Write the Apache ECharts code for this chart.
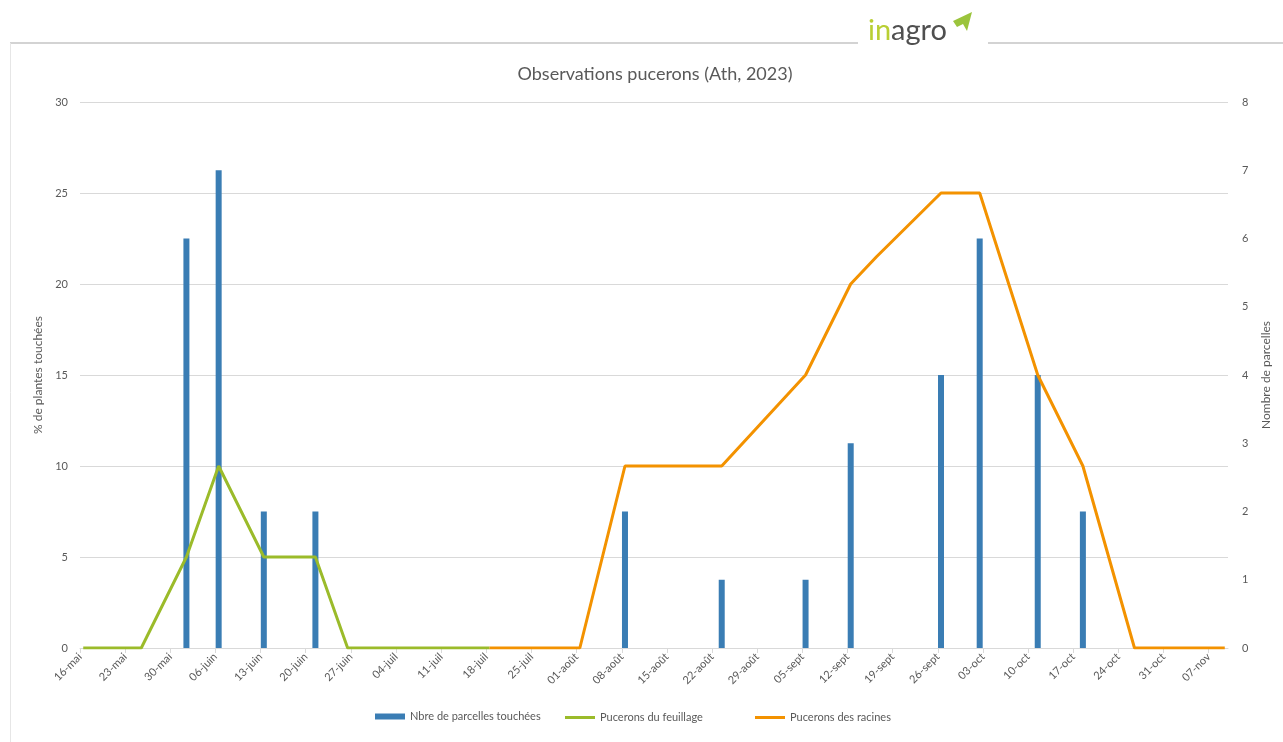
<!DOCTYPE html>
<html>
<head>
<meta charset="utf-8">
<title>Observations pucerons (Ath, 2023)</title>
<script src="https://cdn.jsdelivr.net/npm/echarts@6/dist/echarts.min.js"></script>
<style>
  html, body { margin: 0; padding: 0; background: #ffffff; }
  #chart { width: 1283px; height: 742px; }
</style>
</head>
<body>
<div id="chart"></div>
<script>
// Weekly tick labels of the date axis (one every 7 days from 16 May 2023)
const tickLabels = ['16-mai', '23-mai', '30-mai', '06-juin', '13-juin', '20-juin', '27-juin',
  '04-juil', '11-juil', '18-juil', '25-juil', '01-août', '08-août', '15-août', '22-août',
  '29-août', '05-sept', '12-sept', '19-sept', '26-sept', '03-oct', '10-oct', '17-oct',
  '24-oct', '31-oct', '07-nov'];

// Number of affected plots (right axis)
const parcellesDates = ['2023-06-01', '2023-06-06', '2023-06-13', '2023-06-21', '2023-08-08',
  '2023-08-23', '2023-09-05', '2023-09-12', '2023-09-26', '2023-10-02', '2023-10-11', '2023-10-18'];
const parcellesValues = [6, 7, 2, 2, 2, 1, 1, 3, 4, 6, 4, 2];

// Foliage aphids, % of plants affected (left axis)
const feuillageDates = ['2023-05-16', '2023-05-25', '2023-06-01', '2023-06-06', '2023-06-13',
  '2023-06-21', '2023-06-26', '2023-07-18'];
const feuillageValues = [0, 0, 5, 10, 5, 5, 0, 0];

// Root aphids, % of plants affected (left axis)
const racinesDates = ['2023-07-18', '2023-08-01', '2023-08-08', '2023-08-23', '2023-09-05',
  '2023-09-12', '2023-09-16', '2023-09-26', '2023-10-02', '2023-10-11', '2023-10-18',
  '2023-10-26', '2023-11-09'];
const racinesValues = [0, 0, 10, 10, 15, 20, 21.5, 25, 25, 15, 10, 0, 0];

// Date -> position in days since 16 May, centred in the day slot
const DAY_MS = 86400000;
const ORIGIN = Date.UTC(2023, 4, 16);
function dayPos(s) {
  const p = s.split('-').map(Number);
  return (Date.UTC(p[0], p[1] - 1, p[2]) - ORIGIN) / DAY_MS + 0.5;
}
function pairs(dates, values) {
  return dates.map((d, i) => [dayPos(d), values[i]]);
}

const FONT = 'Lato, "Open Sans", sans-serif';
const TEXT = '#595959';
const GRID = '#d9d9d9';
const BLUE = '#3A7DB4';
const GREEN = '#9BBB2A';
const ORANGE = '#F39200';

const chart = echarts.init(document.getElementById('chart'), null, { renderer: 'canvas' });

const legendStyle = { fontFamily: FONT, fontSize: 11, color: TEXT };

chart.setOption({
  animation: false,
  backgroundColor: '#ffffff',
  textStyle: { fontFamily: FONT },
  title: {
    text: 'Observations pucerons (Ath, 2023)',
    left: 650,
    top: 60,
    textAlign: 'center',
    textStyle: { fontFamily: FONT, fontSize: 18, fontWeight: 'normal', color: TEXT }
  },
  legend: [
    { data: [{ name: 'Nbre de parcelles touchées', icon: 'rect', itemStyle: { color: BLUE } }],
      left: 370, top: 706, itemWidth: 30, itemHeight: 6, textStyle: legendStyle },
    { data: [{ name: 'Pucerons du feuillage', icon: 'rect', itemStyle: { color: GREEN } }],
      left: 560, top: 707, itemWidth: 30, itemHeight: 3, textStyle: legendStyle },
    { data: [{ name: 'Pucerons des racines', icon: 'rect', itemStyle: { color: ORANGE } }],
      left: 750, top: 707, itemWidth: 30, itemHeight: 3, textStyle: legendStyle }
  ],
  grid: { left: 80, right: 55, top: 102, bottom: 94, containLabel: false },
  xAxis: {
    type: 'value',
    min: 0,
    max: 178,
    interval: 7,
    axisLine: { show: true, lineStyle: { color: GRID, width: 1 } },
    axisTick: { show: true, length: 5, lineStyle: { color: GRID } },
    splitLine: { show: false },
    axisLabel: {
      rotate: 45,
      margin: 7,
      fontSize: 11,
      fontFamily: FONT,
      color: TEXT,
      showMaxLabel: false,
      formatter: v => (v % 7 === 0 && tickLabels[v / 7] !== undefined) ? tickLabels[v / 7] : ''
    }
  },
  yAxis: [
    {
      type: 'value',
      min: 0, max: 30, interval: 5,
      name: '% de plantes touchées',
      nameLocation: 'middle',
      nameRotate: 90,
      nameGap: 32,
      nameTextStyle: { fontFamily: FONT, fontSize: 12, color: TEXT },
      axisLine: { show: false },
      axisTick: { show: false },
      axisLabel: { fontSize: 11, fontFamily: FONT, color: TEXT, margin: 12 },
      splitLine: { show: true, lineStyle: { color: GRID, width: 1 } }
    },
    {
      type: 'value',
      min: 0, max: 8, interval: 1,
      name: 'Nombre de parcelles',
      nameLocation: 'middle',
      nameRotate: 90,
      nameGap: 32,
      nameTextStyle: { fontFamily: FONT, fontSize: 12, color: TEXT },
      axisLine: { show: false },
      axisTick: { show: false },
      axisLabel: { fontSize: 11, fontFamily: FONT, color: TEXT, margin: 14 },
      splitLine: { show: false }
    }
  ],
  series: [
    {
      name: 'Nbre de parcelles touchées',
      type: 'bar',
      yAxisIndex: 1,
      barWidth: 6,
      itemStyle: { color: BLUE },
      data: pairs(parcellesDates, parcellesValues),
      z: 2
    },
    {
      name: 'Pucerons du feuillage',
      type: 'line',
      yAxisIndex: 0,
      symbol: 'none',
      lineStyle: { color: GREEN, width: 3 },
      itemStyle: { color: GREEN },
      data: pairs(feuillageDates, feuillageValues),
      z: 3
    },
    {
      name: 'Pucerons des racines',
      type: 'line',
      yAxisIndex: 0,
      symbol: 'none',
      lineStyle: { color: ORANGE, width: 3 },
      itemStyle: { color: ORANGE },
      data: pairs(racinesDates, racinesValues),
      z: 4
    }
  ],
  graphic: [
    // page frame
    { type: 'line', shape: { x1: 10, y1: 43, x2: 858, y2: 43 },
      style: { stroke: '#d3d3d3', lineWidth: 2 }, silent: true },
    { type: 'line', shape: { x1: 988, y1: 43, x2: 1283, y2: 43 },
      style: { stroke: '#d3d3d3', lineWidth: 2 }, silent: true },
    { type: 'line', shape: { x1: 10.5, y1: 43, x2: 10.5, y2: 742 },
      style: { stroke: '#e6e6e6', lineWidth: 1 }, silent: true },
    // inagro logo
    { type: 'text', left: 868, top: 16,
      style: { text: 'in', font: '29px ' + FONT, fill: '#B9CF33' }, silent: true },
    { type: 'text', left: 891, top: 16,
      style: { text: 'agro', font: '29px ' + FONT, fill: '#4f4f4f' }, silent: true },
    { type: 'polygon',
      shape: { points: [[953, 21], [972, 12], [967, 31], [963, 24], [957, 27]] },
      style: { fill: '#9BC43C' }, silent: true }
  ]
});
</script>
</body>
</html>
